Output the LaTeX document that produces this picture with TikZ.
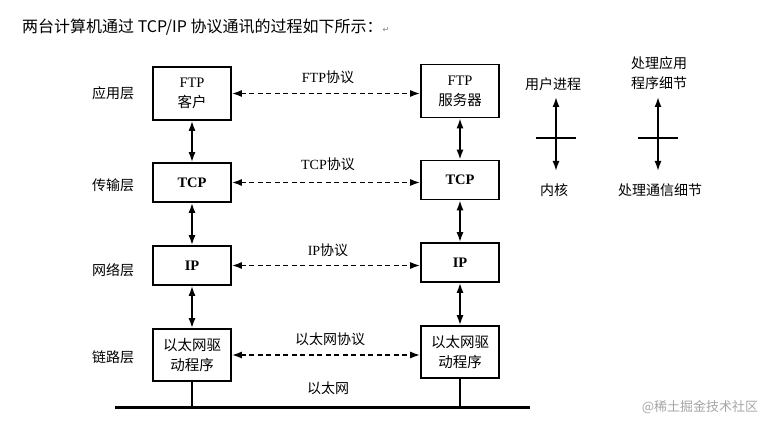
\documentclass[tikz,border=0pt]{standalone}
\usepackage{fontspec}
\setmainfont{Liberation Serif}
\newfontfamily\cjk{Noto Sans CJK SC}
\newfontfamily\djv{DejaVu Sans}
\usetikzlibrary{arrows.meta}
\newcommand\zhs[1]{{\cjk #1}}
\begin{document}
\begin{tikzpicture}[x=1pt,y=-1pt,
  box/.style={draw, line width=1.6pt, minimum width=78pt, inner sep=0pt, align=center,
    font=\fontsize{14.5}{20}\selectfont},
  lab/.style={inner sep=0pt, align=center, font=\fontsize{14}{20}\selectfont},
  dbl/.style={{Latex[length=10pt,width=7pt]}-{Latex[length=10pt,width=7pt]}, line width=1.7pt},
  dsh/.style={dbl, dashed, dash pattern=on 5pt off 3.5pt},
  thin/.style={line width=1.4pt}]
\useasboundingbox (0,0) rectangle (780,422);
\fill[white] (0,0) rectangle (780,422);
% title
\node[anchor=west, inner sep=0pt, font=\cjk\fontsize{16}{18}\selectfont] (title) at (22,27)
  {两台计算机通过 TCP/IP 协议通讯的过程如下所示：{\djv\color{gray}\fontsize{8}{10}\selectfont ↵}};
% layer labels
\node[lab] (l1) at (113,93) {\zhs{应用层}};
\node[lab] (l2) at (113,185) {\zhs{传输层}};
\node[lab] (l3) at (113,270) {\zhs{网络层}};
\node[lab] (l4) at (113,357) {\zhs{链路层}};
% left boxes
\node[box, minimum height=53pt] (ftpL) at (192,93.5) {FTP\\\zhs{客户}};
\node[box, minimum height=39pt] (tcpL) at (192,182.5) {\textbf{TCP}};
\node[box, minimum height=39pt] (ipL) at (192,265.5) {\textbf{IP}};
\node[box, minimum height=52pt] (ethL) at (192,355) {\zhs{以太网驱}\\\zhs{动程序}};
% right boxes
\node[box, minimum height=53pt] (ftpR) at (460,91) {FTP\\\zhs{服务器}};
\node[box, minimum height=39pt] (tcpR) at (460,180) {\textbf{TCP}};
\node[box, minimum height=39pt] (ipR) at (460,262.5) {\textbf{IP}};
\node[box, minimum height=52pt] (ethR) at (460,352) {\zhs{以太网驱}\\\zhs{动程序}};
% vertical arrows
\draw[dbl] (ftpL) -- (tcpL);
\draw[dbl] (tcpL) -- (ipL);
\draw[dbl] (ipL) -- (ethL);
\draw[dbl] (ftpR) -- (tcpR);
\draw[dbl] (tcpR) -- (ipR);
\draw[dbl] (ipR) -- (ethR);
% protocol arrows
\draw[dsh] (ftpL.east) -- (ftpL.east -| ftpR.west);
\draw[dsh] (tcpL.east) -- (tcpL.east -| tcpR.west);
\draw[dsh] (ipL.east) -- (ipL.east -| ipR.west);
\draw[dsh] (ethL.east) -- (ethL.east -| ethR.west);
\node[lab] (p1) at (328,77) {FTP\zhs{协议}};
\node[lab] (p2) at (328,164) {TCP\zhs{协议}};
\node[lab] (p3) at (328,250) {IP\zhs{协议}};
\node[lab] (p4) at (330,339) {\zhs{以太网协议}};
% ethernet bus
\coordinate (busL) at (115,407);
\coordinate (busR) at (530,407);
\draw[line width=3pt] (busL) -- (busR);
\draw[thin] (ethL.south) -- (ethL.south |- busL);
\draw[thin] (ethR.south) -- (ethR.south |- busL);
\node[lab] (eth) at (328,388) {\zhs{以太网}};
% right legend
\node[lab] (user) at (553,84) {\zhs{用户进程}};
\node[lab] (kern) at (554,190) {\zhs{内核}};
\coordinate (u1) at (556,97);
\coordinate (k1) at (556,171);
\draw[dbl] (u1) -- (k1);
\coordinate (t1a) at (536,138);
\coordinate (t1b) at (576,138);
\draw[thin] (t1a) -- (t1b);
\node[lab] (app) at (659,73) {\zhs{处理应用}\\\zhs{程序细节}};
\node[lab] (comm) at (660,190) {\zhs{处理通信细节}};
\coordinate (u2) at (658,97);
\coordinate (k2) at (658,171);
\draw[dbl] (u2) -- (k2);
\coordinate (t2a) at (638,138);
\coordinate (t2b) at (678,138);
\draw[thin] (t2a) -- (t2b);
% watermark
\node[lab, text=gray!70, font=\cjk\fontsize{13}{15}\selectfont] (wm) at (700,407) {@稀土掘金技术社区};
\end{tikzpicture}
\end{document}
